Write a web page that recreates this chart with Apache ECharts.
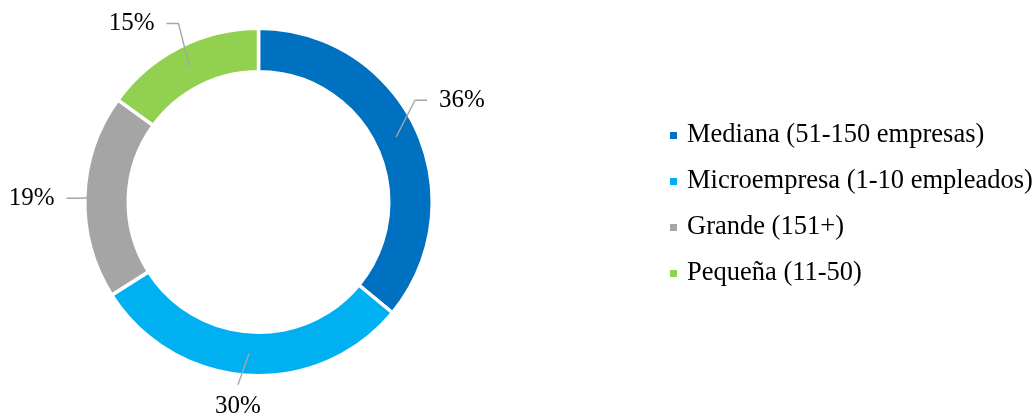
<!DOCTYPE html>
<html>
<head>
<meta charset="utf-8">
<script src="https://cdn.jsdelivr.net/npm/echarts@6/dist/echarts.min.js"></script>
<style>
  html, body { margin: 0; padding: 0; background: #ffffff; }
  #chart { width: 1034px; height: 416px; }
</style>
</head>
<body>
<div id="chart"></div>
<script>
// Company size breakdown (share of firms, %)
const categories = [
  'Mediana (51-150 empresas)',
  'Microempresa (1-10 empleados)',
  'Grande (151+)',
  'Pequeña (11-50)'
];
const shares = [36, 30, 19, 15];
const sliceColors = ['#0070C0', '#00B0F0', '#A5A5A5', '#92D050'];

// Where each value label sits relative to the start of its leader line
const labelPlacement = [
  { dx: 31,  dy: -37, align: 'left',   verticalAlign: 'middle', length2: 12 },
  { dx: -11, dy: 31,  align: 'center', verticalAlign: 'top',    length2: 0 },
  { dx: -40, dy: 1,   align: 'right',  verticalAlign: 'middle', length2: 12 },
  { dx: -23, dy: -43, align: 'right',  verticalAlign: 'middle', length2: 12 }
];

const center = [258.5, 202];
const serif = '"Liberation Serif", "Times New Roman", serif';

const chart = echarts.init(document.getElementById('chart'), null, { renderer: 'canvas' });

const ringData = categories.map((name, i) => ({
  name: name,
  value: shares[i],
  itemStyle: { color: sliceColors[i] }
}));

// Invisible disc reaching the middle of the donut band that carries the value
// labels, so leader lines start inside the coloured band.
const labelData = categories.map((name, i) => ({
  name: name,
  value: shares[i],
  labelLine: { length2: labelPlacement[i].length2 }
}));

chart.setOption({
  animation: false,
  backgroundColor: '#ffffff',
  legend: {
    orient: 'vertical',
    left: 663,
    top: 117,
    icon: 'rect',
    itemWidth: 9,
    itemHeight: 9,
    itemGap: 19,
    selectedMode: false,
    data: categories,
    textStyle: {
      fontFamily: serif,
      fontSize: 26.5,
      lineHeight: 26,
      color: '#000000',
      padding: [0, 0, 0, 4]
    }
  },
  series: [
    {
      type: 'pie',
      z: 1,
      center: center,
      radius: [130.25, 173.75],
      startAngle: 90,
      clockwise: true,
      silent: true,
      label: { show: false },
      labelLine: { show: false },
      itemStyle: { borderColor: '#ffffff', borderWidth: 3.5 },
      emphasis: { disabled: true },
      data: ringData
    },
    {
      type: 'pie',
      zlevel: 1,
      z: 5,
      center: center,
      radius: [0, 152],
      startAngle: 90,
      clockwise: true,
      silent: true,
      itemStyle: { color: 'rgba(0,0,0,0)', borderWidth: 0 },
      emphasis: { disabled: true },
      label: {
        show: true,
        position: 'outside',
        formatter: '{c}%',
        fontFamily: serif,
        fontSize: 25,
        color: '#000000',
        // transparent box so the padding counts when the leader line is attached
        backgroundColor: 'rgba(255,255,255,0)',
        padding: [9, 12, 9, 12],
        bleedMargin: 0,
        overflow: 'none'
      },
      labelLine: {
        show: true,
        length: 1,
        length2: 12,
        minTurnAngle: 10,
        lineStyle: { color: '#A6A6A6', width: 1.4 }
      },
      labelLayout: function (p) {
        const s = labelPlacement[p.dataIndex];
        const a = p.labelLinePoints[0];
        return {
          x: a[0] + s.dx,
          y: a[1] + s.dy,
          align: s.align,
          verticalAlign: s.verticalAlign
        };
      },
      data: labelData
    }
  ]
});
</script>
</body>
</html>
